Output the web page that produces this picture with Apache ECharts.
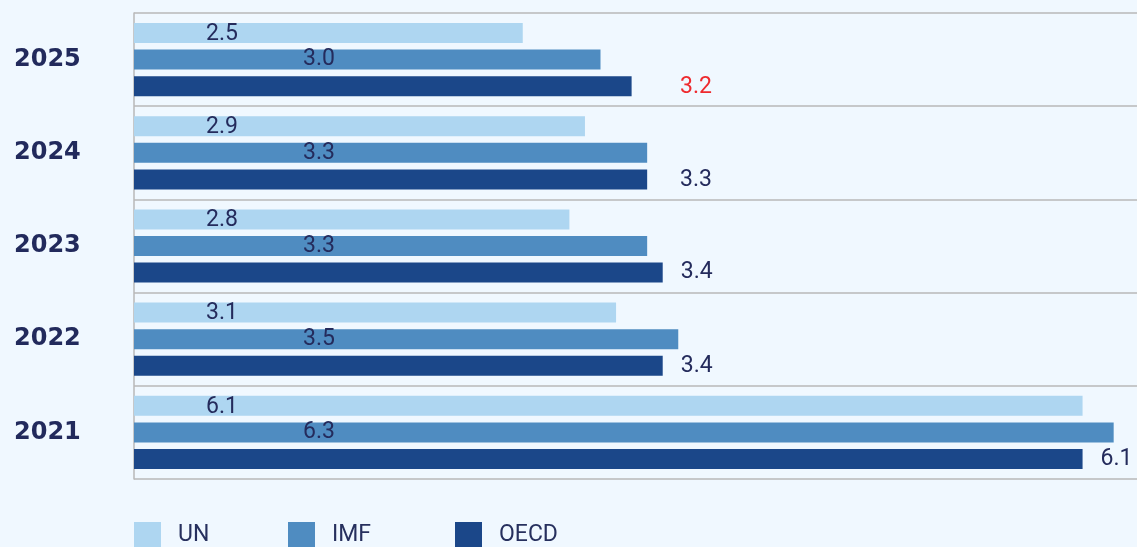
<!DOCTYPE html>
<html>
<head>
<meta charset="utf-8">
<script src="https://cdn.jsdelivr.net/npm/echarts@6/dist/echarts.min.js"></script>
<style>
  html, body { margin: 0; padding: 0; background: #f0f8ff; }
  #chart { width: 1137px; height: 547px; }
</style>
</head>
<body>
<div id="chart"></div>
<script>
// years, top to bottom
var years = ['2025', '2024', '2023', '2022', '2021'];
var seriesNames = ['UN', 'IMF', 'OECD'];
var unValues = [2.5, 2.9, 2.8, 3.1, 6.1];
var imfValues = [3.0, 3.3, 3.3, 3.5, 6.3];
var oecdValues = [3.2, 3.3, 3.4, 3.4, 6.1];
var colors = ['#aed6f1', '#4f8cc1', '#1b4789'];

var labelColor = '#242b5c';
var chart = echarts.init(document.getElementById('chart'));

var xMax = 6.45;
var plotWidth = 1137 - 134;
var oecdLabelX = 546; // fixed column for short bars

// OECD labels: fixed column unless the bar reaches past it
var oecdData = oecdValues.map(function (v, i) {
  var len = v / xMax * plotWidth;
  var item = { value: v, label: {} };
  if (len + 18 > oecdLabelX) {
    item.label.position = 'right';
    item.label.distance = 18;
    item.label.align = 'left';
  } else {
    item.label.position = [oecdLabelX, 11];
    item.label.align = 'left';
  }
  if (i === 0) item.label.color = '#ee2a2e';
  return item;
});

function valueLabel(pos) {
  return {
    show: true,
    position: pos,
    align: 'center',
    verticalAlign: 'middle',
    color: labelColor,
    fontFamily: 'Roboto',
    fontSize: 23,
    formatter: function (p) { return p.value.toFixed(1); }
  };
}

function legendAt(left, name) {
  return {
    left: left,
    top: 522,
    padding: 0,
    itemWidth: 27,
    itemHeight: 27,
    icon: 'rect',
    selectedMode: false,
    data: [name],
    textStyle: {
      color: '#27305e',
      fontFamily: 'Roboto',
      fontSize: 23,
      padding: [5, 0, 0, 12]
    }
  };
}

var option = {
  backgroundColor: '#f0f8ff',
  animation: false,
  color: colors,
  legend: [legendAt(134, 'UN'), legendAt(288, 'IMF'), legendAt(455, 'OECD')],
  grid: { left: 134, right: 0, top: 13, bottom: 68, containLabel: false },
  xAxis: {
    type: 'value',
    min: 0,
    max: xMax,
    show: false
  },
  yAxis: {
    type: 'category',
    data: years,
    inverse: true,
    axisLine: { show: true, lineStyle: { color: '#b8b8b8', width: 1.5 } },
    axisTick: { show: false },
    splitLine: { show: true, lineStyle: { color: '#b8b8b8', width: 1.5 } },
    axisLabel: {
      align: 'left',
      margin: 120,
      color: '#222a5c',
      fontFamily: 'DejaVu Sans',
      fontWeight: 'bold',
      fontSize: 24
    }
  },
  series: [
    {
      name: seriesNames[0],
      type: 'bar',
      data: unValues,
      barWidth: 20,
      barGap: '33%',
      label: valueLabel([88, 11])
    },
    {
      name: seriesNames[1],
      type: 'bar',
      data: imfValues,
      barWidth: 20,
      barGap: '33%',
      label: valueLabel([185, 10])
    },
    {
      name: seriesNames[2],
      type: 'bar',
      data: oecdData,
      barWidth: 20,
      barGap: '33%',
      label: {
        show: true,
        verticalAlign: 'middle',
        color: labelColor,
        fontFamily: 'Roboto',
        fontSize: 23,
        formatter: function (p) { return p.value.toFixed(1); }
      }
    }
  ]
};

chart.setOption(option);
</script>
</body>
</html>
